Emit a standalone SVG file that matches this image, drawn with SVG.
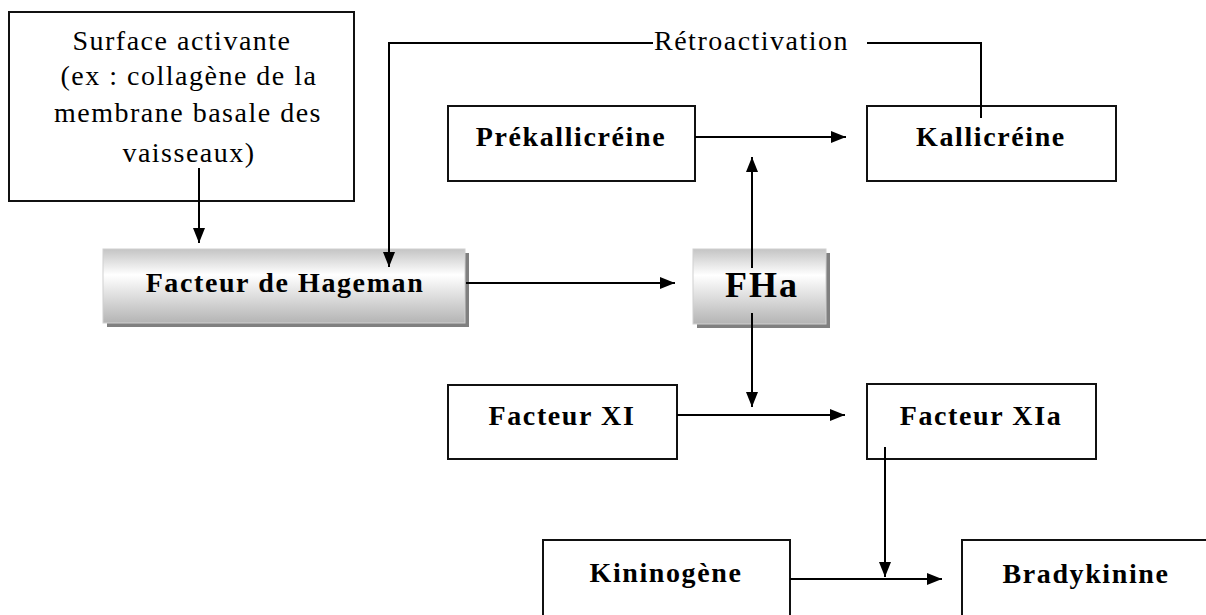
<svg xmlns="http://www.w3.org/2000/svg" width="1206" height="615" viewBox="0 0 1206 615">
<style>
.box{fill:#fff;stroke:#111;stroke-width:2}
.lbl{font-family:"Liberation Serif","Times New Roman",serif;font-weight:bold;font-size:28px;letter-spacing:1.6px;text-anchor:middle;fill:#000}
.reg{font-family:"Liberation Serif","Times New Roman",serif;font-size:28px;letter-spacing:1.5px;fill:#000}
.con{fill:none;stroke:#000;stroke-width:2}
.shadow{fill:#808080}
.cyl{fill:url(#cyl);stroke:#d0d0d0;stroke-width:1}
</style>
<defs>
<linearGradient id="cyl" x1="0" y1="0" x2="0" y2="1">
<stop offset="0" stop-color="#c4c4c4"/>
<stop offset="0.35" stop-color="#ffffff"/>
<stop offset="1" stop-color="#b4b4b4"/>
</linearGradient>
<marker id="arr" markerUnits="userSpaceOnUse" markerWidth="16" markerHeight="14" viewBox="0 0 16 14" refX="15" refY="7" orient="auto">
<path d="M0,1 L15,7 L0,13 Z" fill="#000"/>
</marker>
</defs>
<g id="surface">
<rect class="box" x="9" y="12" width="345" height="189"/>
<text class="reg" text-anchor="middle" x="182" y="50">Surface activante</text>
<text class="reg" text-anchor="middle" x="189" y="85">(ex : collagène de la</text>
<text class="reg" text-anchor="middle" x="188" y="122">membrane basale des</text>
<text class="reg" text-anchor="middle" x="189" y="162">vaisseaux)</text>
</g>
<g id="hageman">
<rect class="shadow" x="107" y="253" width="362" height="74"/>
<rect class="cyl" x="103" y="249" width="362" height="74"/>
<text class="lbl" x="285" y="292">Facteur de Hageman</text>
</g>
<g id="fha">
<rect class="shadow" x="697" y="253" width="133" height="75"/>
<rect class="cyl" x="693" y="249" width="133" height="75"/>
<text class="lbl" x="762" y="297" style="font-size:36px;letter-spacing:2px">FHa</text>
</g>
<g id="prekallicreine">
<rect class="box" x="448" y="106" width="247" height="75"/>
<text class="lbl" x="571" y="146">Prékallicréine</text>
</g>
<g id="kallicreine">
<rect class="box" x="867" y="106" width="249" height="75"/>
<text class="lbl" x="991" y="146">Kallicréine</text>
</g>
<g id="facteur-xi">
<rect class="box" x="448" y="385" width="229" height="74"/>
<text class="lbl" x="562" y="425">Facteur XI</text>
</g>
<g id="facteur-xia">
<rect class="box" x="867" y="384" width="229" height="75"/>
<text class="lbl" x="981" y="425">Facteur XIa</text>
</g>
<g id="kininogene">
<rect class="box" x="543" y="540" width="247" height="90"/>
<text class="lbl" x="666" y="582">Kininogène</text>
</g>
<g id="bradykinine">
<rect class="box" x="962" y="540" width="260" height="90"/>
<text class="lbl" x="1086" y="583">Bradykinine</text>
</g>
<g id="connectors">
<line class="con" x1="199" y1="168" x2="199" y2="243" marker-end="url(#arr)"/>
<polyline class="con" points="981,118 981,43 867,43"/>
<polyline class="con" points="653,43 389,43 389,267" marker-end="url(#arr)"/>
<text class="reg" x="654" y="50">Rétroactivation</text>
<line class="con" x1="695" y1="137" x2="846" y2="137" marker-end="url(#arr)"/>
<line class="con" x1="752" y1="268" x2="752" y2="157" marker-end="url(#arr)"/>
<line class="con" x1="466" y1="283" x2="675" y2="283" marker-end="url(#arr)"/>
<line class="con" x1="752" y1="313" x2="752" y2="407" marker-end="url(#arr)"/>
<line class="con" x1="677" y1="415" x2="845" y2="415" marker-end="url(#arr)"/>
<line class="con" x1="885" y1="447" x2="885" y2="577" marker-end="url(#arr)"/>
<line class="con" x1="790" y1="579" x2="942" y2="579" marker-end="url(#arr)"/>
</g>
</svg>
